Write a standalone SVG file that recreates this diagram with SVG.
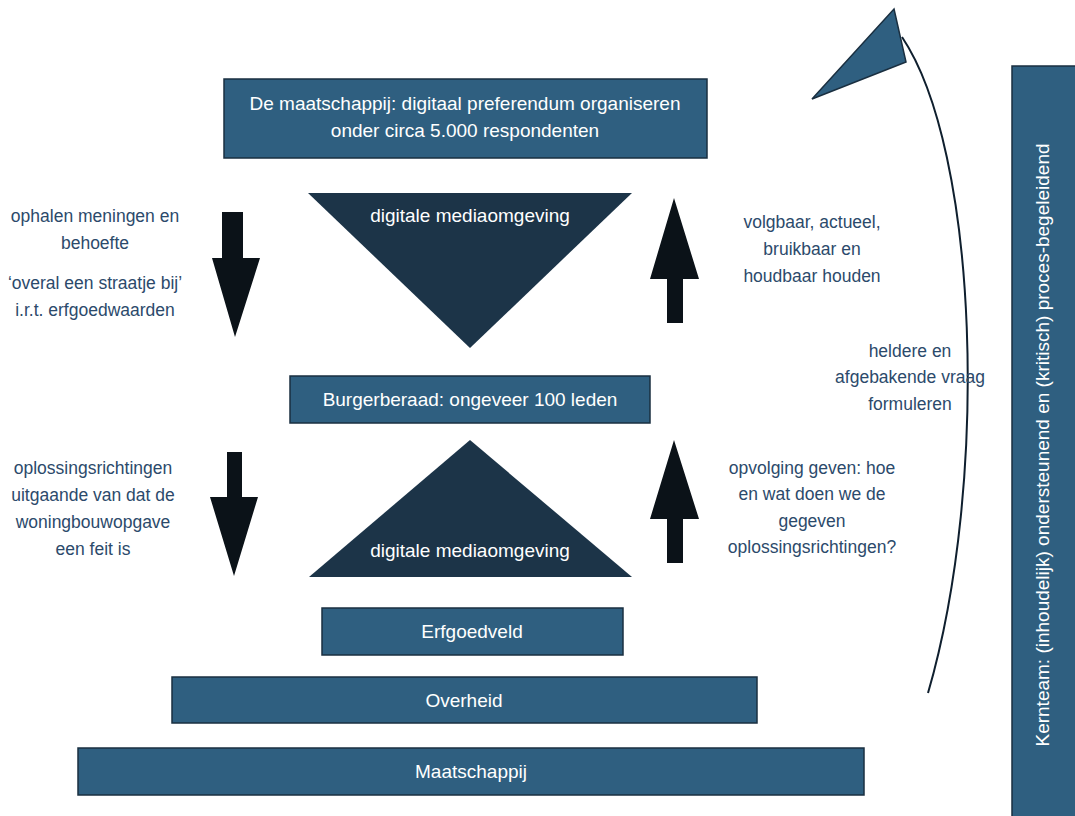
<svg xmlns="http://www.w3.org/2000/svg" width="1075" height="816" viewBox="0 0 1075 816">
<style>
.box{fill:#2f5f80;stroke:#1a2f40;stroke-width:1.5}
.tri{fill:#1c3448}
.arw{fill:#0b1218}
.wt{font-family:"Liberation Sans",Arial,sans-serif;fill:#ffffff;text-anchor:middle;font-size:19px}
.bt{font-family:"Liberation Sans",Arial,sans-serif;fill:#2c4a6b;text-anchor:middle;font-size:17.5px}
</style>
<rect width="1075" height="816" fill="#ffffff"/>
<g id="connectors">
<polygon class="arw" points="222,212 243,212 243,258 260,258 235,337 212,258 222,258"/>
<polygon class="arw" points="667,323 683,323 683,279 699,279 674,198 650,279 667,279"/>
<polygon class="arw" points="227,452 242,452 242,497 258,497 234,576 210,497 227,497"/>
<polygon class="arw" points="667,563 683,563 683,519 699,519 674,440 650,519 667,519"/>
<path d="M928,693 C990,480 978,150 902,37" fill="none" stroke="#0f1f2e" stroke-width="2"/>
<polygon points="894,9 906,62 812,99" fill="#2f5f80" stroke="#1a2f40" stroke-width="1.5"/>
</g>
<g id="node-top">
<rect class="box" x="224" y="79" width="483" height="79"/>
<text class="wt" x="465" y="110">De maatschappij: digitaal preferendum organiseren</text>
<text class="wt" x="465" y="137">onder circa 5.000 respondenten</text>
</g>
<g id="node-tri1">
<polygon class="tri" points="308,193 632,193 470,348"/>
<text class="wt" x="470" y="222">digitale mediaomgeving</text>
</g>
<g id="node-burgerberaad">
<rect class="box" x="290" y="376" width="360" height="47"/>
<text class="wt" x="470" y="406">Burgerberaad: ongeveer 100 leden</text>
</g>
<g id="node-tri2">
<polygon class="tri" points="470,440 632,577 309,577"/>
<text class="wt" x="470" y="557">digitale mediaomgeving</text>
</g>
<g id="node-erfgoedveld">
<rect class="box" x="322" y="608" width="301" height="47"/>
<text class="wt" x="472" y="638">Erfgoedveld</text>
</g>
<g id="node-overheid">
<rect class="box" x="172" y="677" width="585" height="46"/>
<text class="wt" x="464" y="707">Overheid</text>
</g>
<g id="node-maatschappij">
<rect class="box" x="78" y="748" width="786" height="47"/>
<text class="wt" x="471" y="778">Maatschappij</text>
</g>
<g id="node-kernteam">
<rect class="box" x="1012" y="66" width="70" height="760"/>
<text class="wt" transform="translate(1049,445) rotate(-90)" x="0" y="0">Kernteam: (inhoudelijk) ondersteunend en (kritisch) proces-begeleidend</text>
</g>
<g id="label-left1">
<text class="bt" x="95" y="222">ophalen meningen en</text>
<text class="bt" x="95" y="249">behoefte</text>
<text class="bt" x="95" y="289">‘overal een straatje bij’</text>
<text class="bt" x="95" y="316">i.r.t. erfgoedwaarden</text>
</g>
<g id="label-right1">
<text class="bt" x="812" y="228">volgbaar, actueel,</text>
<text class="bt" x="812" y="255">bruikbaar en</text>
<text class="bt" x="812" y="282">houdbaar houden</text>
</g>
<g id="label-right-curve">
<text class="bt" x="910" y="357">heldere en</text>
<text class="bt" x="910" y="383">afgebakende vraag</text>
<text class="bt" x="910" y="410">formuleren</text>
</g>
<g id="label-left2">
<text class="bt" x="93" y="474">oplossingsrichtingen</text>
<text class="bt" x="93" y="501">uitgaande van dat de</text>
<text class="bt" x="93" y="528">woningbouwopgave</text>
<text class="bt" x="93" y="555">een feit is</text>
</g>
<g id="label-right2">
<text class="bt" x="812" y="474">opvolging geven: hoe</text>
<text class="bt" x="812" y="500">en wat doen we de</text>
<text class="bt" x="812" y="527">gegeven</text>
<text class="bt" x="812" y="553">oplossingsrichtingen?</text>
</g>
</svg>
